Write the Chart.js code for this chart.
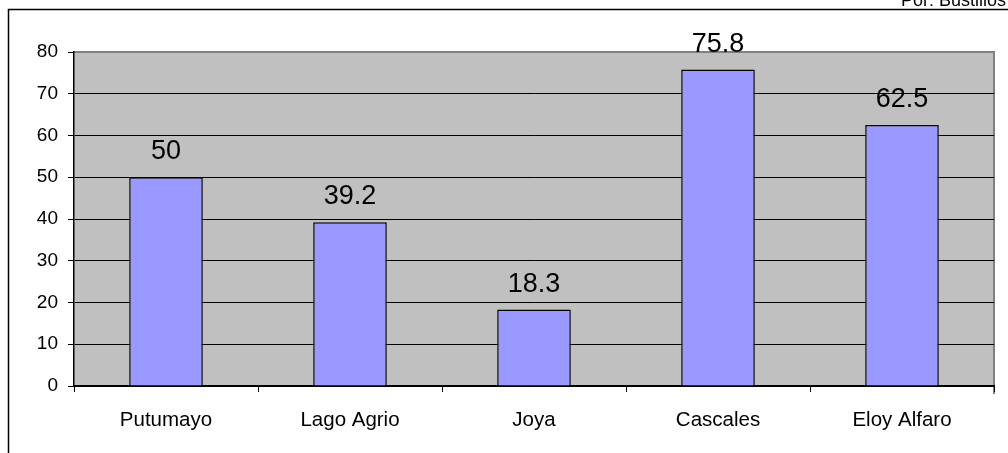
<!DOCTYPE html>
<html>
<head>
<meta charset="utf-8">
<script src="https://cdn.jsdelivr.net/npm/chart.js@4"></script>
<style>
  html, body { margin: 0; padding: 0; background: #fff; }
  #wrap { width: 1008px; height: 453px; }
</style>
</head>
<body>
<div id="wrap"><canvas id="grafico" width="1008" height="453"></canvas></div>
<script>
// Datos del gráfico
const cantones = ['Putumayo', 'Lago Agrio', 'Joya', 'Cascales', 'Eloy Alfaro'];
const valores = [50, 39.2, 18.3, 75.8, 62.5];
const autor = 'Por: Bustillos';

// Marco exterior, fondo gris y texto del autor
const fondoPlugin = {
    id: 'fondo',
    beforeDraw(chart) {
        const ctx = chart.ctx;
        const a = chart.chartArea;
        ctx.save();
        ctx.fillStyle = '#ffffff';
        ctx.fillRect(0, 0, chart.width, chart.height);
        // marco
        ctx.strokeStyle = '#000';
        ctx.lineWidth = 1.5;
        ctx.beginPath();
        ctx.moveTo(8.5, chart.height);
        ctx.lineTo(8.5, 9.5);
        ctx.lineTo(chart.width, 9.5);
        ctx.stroke();
        // fondo del área
        ctx.fillStyle = '#c0c0c0';
        ctx.fillRect(a.left, a.top, a.right - a.left, a.bottom - a.top);
        ctx.strokeStyle = '#808080';
        ctx.lineWidth = 2;
        ctx.beginPath();
        ctx.moveTo(a.left, a.top);
        ctx.lineTo(a.right, a.top);
        ctx.lineTo(a.right, a.bottom + 8);
        ctx.stroke();
        // autor
        ctx.fillStyle = '#000';
        ctx.font = '18px Arial, "Liberation Sans"';
        ctx.textBaseline = 'alphabetic';
        ctx.fillText(autor, 901, 6);
        ctx.restore();
    }
};

// Etiquetas de valor sobre las barras
const etiquetasPlugin = {
    id: 'etiquetas',
    afterDatasetsDraw(chart) {
        const ctx = chart.ctx;
        const meta = chart.getDatasetMeta(0);
        ctx.save();
        ctx.fillStyle = '#000';
        ctx.font = '27px Arial, "Liberation Sans"';
        ctx.textAlign = 'center';
        ctx.textBaseline = 'alphabetic';
        meta.data.forEach((bar, i) => {
            ctx.fillText(String(valores[i]), bar.x, bar.y - 18);
        });
        ctx.restore();
    }
};

const ctx = document.getElementById('grafico').getContext('2d');
new Chart(ctx, {
    type: 'bar',
    data: {
        labels: cantones,
        datasets: [{
            data: valores,
            backgroundColor: '#9999ff',
            borderColor: '#000000',
            borderWidth: 1.5,
            barPercentage: 0.8,
            categoryPercentage: 0.5
        }]
    },
    options: {
        responsive: false,
        animation: false,
        layout: { padding: { top: 52, right: 14, left: 0, bottom: 0 } },
        plugins: {
            legend: { display: false },
            tooltip: { enabled: false }
        },
        scales: {
            y: {
                min: 0,
                max: 80,
                ticks: {
                    stepSize: 10,
                    color: '#000',
                    padding: 10,
                    font: { family: 'Arial, "Liberation Sans"', size: 19 }
                },
                grid: {
                    color: (c) => c.tick && c.tick.value === 80 ? '#808080' : '#000000',
                    tickColor: '#000000',
                    lineWidth: 1,
                    tickLength: 6
                },
                border: { color: '#000', width: 1.5 },
                afterFit(scale) { scale.width = 74; }
            },
            x: {
                ticks: {
                    color: '#000',
                    padding: 16,
                    font: { family: 'Arial, "Liberation Sans"', size: 20.5 }
                },
                grid: {
                    offset: true,
                    drawOnChartArea: false,
                    drawTicks: true,
                    tickLength: 6,
                    color: '#000'
                },
                border: { color: '#000', width: 1.5 },
                afterFit(scale) { scale.height = 67; }
            }
        }
    },
    plugins: [fondoPlugin, etiquetasPlugin]
});
</script>
</body>
</html>
